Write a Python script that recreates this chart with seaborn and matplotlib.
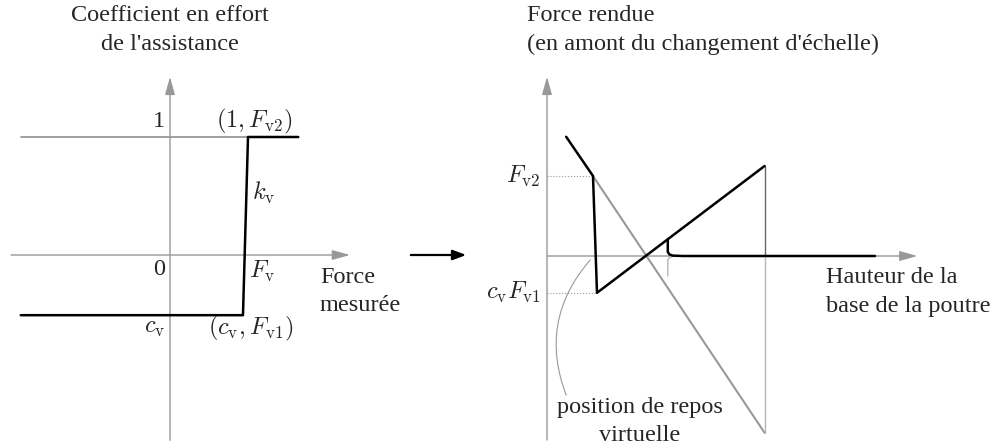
import matplotlib
matplotlib.use("Agg")
import matplotlib.pyplot as plt
import seaborn as sns

sns.set_theme(style="white")
plt.rcParams["font.family"] = ["Liberation Serif", "DejaVu Serif"]
plt.rcParams["mathtext.fontset"] = "cm"

GRAY = "#999999"
LIGHT = "#b5b5b5"

# left panel: assistance coefficient vs measured force
coef_low, coef_high = -0.51, 1.0
force_x = [-1.99, 0.973, 1.04, 1.71]
coef_y = [coef_low, coef_low, coef_high, coef_high]
unity_x = [-1.99, 1.04]

# right panel: rendered force vs beam base height
render_x = [0.24, 0.575, 0.625, 2.72]
render_y = [1.49, 1.0, -0.46, 1.125]
jump_x = [1.51, 1.51, 1.53, 1.57, 1.7, 4.1]
jump_y = [0.21, 0.05, 0.02, 0.005, 0.0, 0.0]
mirror_x = [1.51, 1.51, 1.53, 1.57, 1.7]
mirror_y = [-0.25, -0.05, -0.02, -0.005, 0.0]
virtual_x = [0.575, 2.72]
virtual_y = [1.0, -2.21]
peak_x = [2.72, 2.72, 2.72]
peak_y = [1.125, 0.0, -2.21]

W, H = 994, 448
fig = plt.figure(figsize=(W / 100, H / 100), dpi=100)


def panel(px0, px1, py0, py1, ox, oy, sx, sy):
    # axes placed in pixel box, data origin at pixel (ox, oy)
    ax = fig.add_axes([px0 / W, 1 - py1 / H, (px1 - px0) / W, (py1 - py0) / H])
    ax.set_xlim((px0 - ox) / sx, (px1 - ox) / sx)
    ax.set_ylim((oy - py1) / sy, (oy - py0) / sy)
    ax.set_axis_off()
    return ax


def axis_arrow(ax, x0, y0, x1, y1):
    ax.annotate("", xy=(x1, y1), xytext=(x0, y0), zorder=1,
                arrowprops=dict(arrowstyle="-|>,head_length=0.9,head_width=0.25",
                                color=GRAY, lw=1.0, shrinkA=0, shrinkB=0))


def line(ax, x, y, color, lw, z=4):
    sns.lineplot(x=x, y=y, sort=False, estimator=None, color=color, lw=lw,
                 zorder=z, ax=ax)


TXT = 17.5
LS = 1.45

# ---- left panel
axl = panel(0, 420, 60, 448, 170, 255, 75, 118)
axis_arrow(axl, -2.12, 0, 2.4, 0)
axis_arrow(axl, 0, -1.57, 0, 1.51)
line(axl, unity_x, [coef_high, coef_high], GRAY, 1.3, z=3)
line(axl, force_x, coef_y, "black", 1.8)

axl.text(-0.07, 1.13, "1", ha="right", va="center", fontsize=TXT)
axl.text(1.12, 1.13, r"$(1, F_{\mathrm{v2}})$", ha="center", va="center", fontsize=TXT)
axl.text(1.09, 0.53, r"$k_{\mathrm{v}}$", ha="left", va="center", fontsize=TXT)
axl.text(-0.07, -0.12, "0", ha="right", va="center", fontsize=TXT)
axl.text(1.05, -0.14, r"$F_{\mathrm{v}}$", ha="left", va="center", fontsize=TXT)
axl.text(-0.07, -0.62, r"$c_{\mathrm{v}}$", ha="right", va="center", fontsize=TXT)
axl.text(1.07, -0.62, r"$(c_{\mathrm{v}}, F_{\mathrm{v1}})$", ha="center", va="center", fontsize=TXT)
axl.text(2.0, -0.31, "Force\nmesurée", ha="left", va="center", fontsize=TXT, linespacing=LS)
fig.text(170 / W, 1 - 30 / H, "Coefficient en effort\nde l'assistance",
         ha="center", va="center", fontsize=TXT, linespacing=LS)

# arrow between panels
fig.add_artist(matplotlib.patches.FancyArrowPatch(
    (408 / W, 1 - 255 / H), (469 / W, 1 - 255 / H), transform=fig.transFigure,
    arrowstyle="-|>,head_length=0.8,head_width=0.3", color="black", lw=1.6,
    mutation_scale=10))

# ---- right panel
axr = panel(470, 994, 60, 448, 547, 256, 80, 80)
axis_arrow(axr, 0, 0, 4.63, 0)
axis_arrow(axr, 0, -2.3, 0, 2.24)

axr.plot([0, render_x[1]], [render_y[1]] * 2, ls=":", color=GRAY, lw=0.8)
axr.plot([0, render_x[2]], [render_y[2]] * 2, ls=":", color=GRAY, lw=0.8)
line(axr, virtual_x, virtual_y, GRAY, 1.5, z=3)
line(axr, peak_x[:2], peak_y[:2], "#666666", 1.0, z=3)
line(axr, peak_x[1:], peak_y[1:], LIGHT, 1.0, z=3)
line(axr, mirror_x, mirror_y, LIGHT, 1.0, z=3)
line(axr, render_x, render_y, "black", 1.8)
line(axr, jump_x, jump_y, "black", 1.8)

axr.annotate("", xy=(0.54, -0.05), xytext=(0.24, -1.74),
             arrowprops=dict(arrowstyle="-", color=GRAY, lw=0.8,
                             connectionstyle="arc3,rad=-0.3",
                             shrinkA=0, shrinkB=0))

axr.text(-0.08, 1.0, r"$F_{\mathrm{v2}}$", ha="right", va="center", fontsize=TXT)
axr.text(-0.08, -0.46, r"$c_{\mathrm{v}}F_{\mathrm{v1}}$", ha="right", va="center", fontsize=TXT)
axr.text(3.49, -0.45, "Hauteur de la\nbase de la poutre", ha="left", va="center",
         fontsize=TXT, linespacing=LS)
axr.text(1.16, -2.07, "position de repos\nvirtuelle", ha="center", va="center",
         fontsize=TXT, linespacing=LS)
fig.text(527 / W, 1 - 30 / H, "Force rendue\n(en amont du changement d'échelle)",
         ha="left", va="center", fontsize=TXT, linespacing=LS)

fig.savefig("out.png", dpi=100)
